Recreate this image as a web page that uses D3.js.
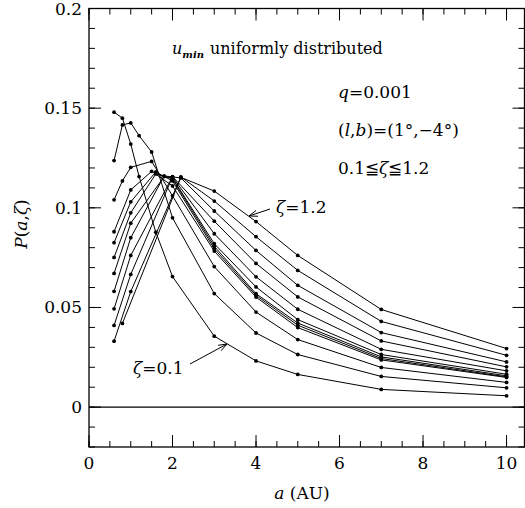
<!DOCTYPE html>
<html><head><meta charset="utf-8">
<script src="https://cdn.jsdelivr.net/npm/d3@7"></script>
<style>
html,body{margin:0;padding:0;background:#fff;}
svg text{font-family:"DejaVu Serif",serif;fill:#000;}
</style></head>
<body><svg id="c" width="525" height="508"></svg>
<script>
const zetas = [0.1,0.2,0.3,0.4,0.5,0.6,0.7,0.8,0.9,1.0,1.1,1.2];
const aValues = [
  [0.6,0.8,1.0,1.2,1.6,2,3,4,5,7,10],
  [0.6,0.8,1.0,1.2,1.5,2,3,4,5,7,10],
  [0.6,0.8,1.0,1.5,2,3,4,5,7,10],
  [0.6,1.0,1.5,2,3,4,5,7,10],
  [0.6,1.0,1.6,2,3,4,5,7,10],
  [0.6,1.0,1.6,2,3,4,5,7,10],
  [0.6,1.0,1.8,2,3,4,5,7,10],
  [0.6,1.0,1.8,2,3,4,5,7,10],
  [0.6,1.0,2,3,4,5,7,10],
  [0.6,1.0,2,2.2,3,4,5,7,10],
  [0.6,1.0,2.2,3,4,5,7,10],
  [0.8,2.2,3,4,5,7,10]
];
const pValues = [
  [0.148,0.145,0.132,0.1157,0.0878,0.0655,0.0356,0.0232,0.0164,0.0089,0.0057],
  [0.1237,0.1416,0.1426,0.1362,0.128,0.095,0.057,0.0372,0.0264,0.0154,0.0097],
  [0.104,0.1135,0.1203,0.1233,0.106,0.0705,0.0477,0.0339,0.0199,0.0124],
  [0.088,0.109,0.1183,0.111,0.0783,0.0552,0.0399,0.0237,0.0149],
  [0.0825,0.103,0.118,0.1135,0.0795,0.0561,0.0411,0.0244,0.0152],
  [0.0751,0.0975,0.117,0.1145,0.0807,0.0569,0.0422,0.0252,0.0157],
  [0.0671,0.0923,0.1157,0.115,0.082,0.0603,0.0439,0.0264,0.0165],
  [0.0581,0.085,0.116,0.1155,0.087,0.0654,0.0491,0.029,0.0182],
  [0.0493,0.0761,0.1157,0.0933,0.0721,0.0553,0.0332,0.0202],
  [0.041,0.0666,0.1155,0.115,0.0984,0.0786,0.0611,0.0374,0.0227],
  [0.0331,0.058,0.1155,0.1034,0.0855,0.0686,0.043,0.026],
  [0.042,0.1153,0.1084,0.0931,0.0761,0.049,0.0294]
];
const xMajorTicks = [0,2,4,6,8,10];
const yMajorTicks = [0,0.05,0.1,0.15,0.2];
const yTickLabels = ["0","0.05","0.1","0.15","0.2"];

const svg = d3.select("#c");
const L=89, R=524.5, T=8.5, B=447;
const x = d3.scaleLinear().domain([0,10.43]).range([L,R]);
const y = d3.scaleLinear().domain([-0.02,0.2]).range([B,T]);

const g = svg.append("g");
g.append("rect").attr("x",L).attr("y",T).attr("width",R-L).attr("height",B-T)
  .attr("fill","none").attr("stroke","#000").attr("stroke-width",1.3);
g.append("line").attr("x1",L).attr("x2",R).attr("y1",y(0)).attr("y2",y(0))
  .attr("stroke","#000").attr("stroke-width",1.1);

const xMinor = d3.range(0,10.43,0.5);
const yMinor = d3.range(-0.02,0.2001,0.01);
function tickLines(sel, vals, isX, len, side){
  sel.selectAll(null).data(vals).enter().append("line")
    .attr("x1",d=>isX? x(d): (side==="L"? L : R))
    .attr("x2",d=>isX? x(d): (side==="L"? L+len : R-len))
    .attr("y1",d=>isX? (side==="B"? B : T) : y(d))
    .attr("y2",d=>isX? (side==="B"? B-len : T+len) : y(d))
    .attr("stroke","#000").attr("stroke-width",1);
}
tickLines(g, xMinor, true, 6, "B");
tickLines(g, xMinor, true, 6, "T");
tickLines(g, xMajorTicks, true, 12, "B");
tickLines(g, xMajorTicks, true, 12, "T");
tickLines(g, yMinor, false, 6, "L");
tickLines(g, yMinor, false, 6, "R");
tickLines(g, yMajorTicks, false, 12, "L");
tickLines(g, yMajorTicks, false, 12, "R");

g.selectAll(null).data(xMajorTicks).enter().append("text")
  .attr("x",d=>x(d)).attr("y",B+22).attr("text-anchor","middle")
  .attr("font-size",17).text(d=>d);
g.selectAll(null).data(yMajorTicks).enter().append("text")
  .attr("x",L-7).attr("y",d=>y(d)+6).attr("text-anchor","end")
  .attr("font-size",17).text((d,i)=>yTickLabels[i]);

const xt = svg.append("text").attr("x",302).attr("y",499).attr("text-anchor","middle").attr("font-size",17);
xt.append("tspan").attr("font-style","italic").text("a");
xt.append("tspan").text(" (AU)");
const yt = svg.append("text").attr("transform","translate(27,224) rotate(-90)").attr("text-anchor","middle").attr("font-size",17);
yt.append("tspan").attr("font-style","italic").text("P");
yt.append("tspan").text("(");
yt.append("tspan").attr("font-style","italic").text("a");
yt.append("tspan").text(",");
yt.append("tspan").attr("font-style","italic").text("ζ");
yt.append("tspan").text(")");

const line = d3.line().x(d=>x(d[0])).y(d=>y(d[1]));
zetas.forEach((z,i)=>{
  const pts = aValues[i].map((a,j)=>[a,pValues[i][j]]);
  g.append("path").datum(pts).attr("d",line).attr("fill","none").attr("stroke","#000").attr("stroke-width",1);
  g.selectAll(null).data(pts).enter().append("circle")
    .attr("cx",d=>x(d[0])).attr("cy",d=>y(d[1])).attr("r",1.9).attr("fill","#000");
});

const t1 = svg.append("text").attr("x",172).attr("y",54).attr("font-size",16);
t1.append("tspan").attr("font-style","italic").text("u");
t1.append("tspan").attr("font-style","italic").attr("font-weight","bold").attr("font-size",10).attr("dy",4).text("min");
t1.append("tspan").attr("dy",-4).attr("dx",6).text("uniformly distributed");
const t2 = svg.append("text").attr("x",338).attr("y",98).attr("font-size",17);
t2.append("tspan").attr("font-style","italic").text("q");
t2.append("tspan").text("=0.001");
const t3 = svg.append("text").attr("x",338).attr("y",136).attr("font-size",17);
t3.append("tspan").text("(");
t3.append("tspan").attr("font-style","italic").text("l");
t3.append("tspan").text(",");
t3.append("tspan").attr("font-style","italic").text("b");
t3.append("tspan").text(")=(1°,−4°)");
const t4 = svg.append("text").attr("x",338).attr("y",174).attr("font-size",17);
t4.append("tspan").text("0.1≦");
t4.append("tspan").attr("font-style","italic").text("ζ");
t4.append("tspan").text("≦1.2");

function label(tx,ty,txt){
  const t = svg.append("text").attr("x",tx).attr("y",ty).attr("font-size",17);
  t.append("tspan").attr("font-style","italic").text("ζ");
  t.append("tspan").text(txt);
}
label(276,213,"=1.2");
label(133,374,"=0.1");
function arrow(x1,y1,x2,y2){
  g.append("line").attr("x1",x1).attr("y1",y1).attr("x2",x2).attr("y2",y2).attr("stroke","#000").attr("stroke-width",1);
  const ang = Math.atan2(y2-y1,x2-x1), L2=9, w=0.35;
  const p1=[x2-L2*Math.cos(ang-w), y2-L2*Math.sin(ang-w)];
  const p2=[x2-L2*Math.cos(ang+w), y2-L2*Math.sin(ang+w)];
  g.append("path").attr("d",`M${p1}L${x2},${y2}L${p2}`).attr("fill","none").attr("stroke","#000").attr("stroke-width",1);
}
arrow(270,209,249,216);
arrow(190,364,227,344);
</script></body></html>
